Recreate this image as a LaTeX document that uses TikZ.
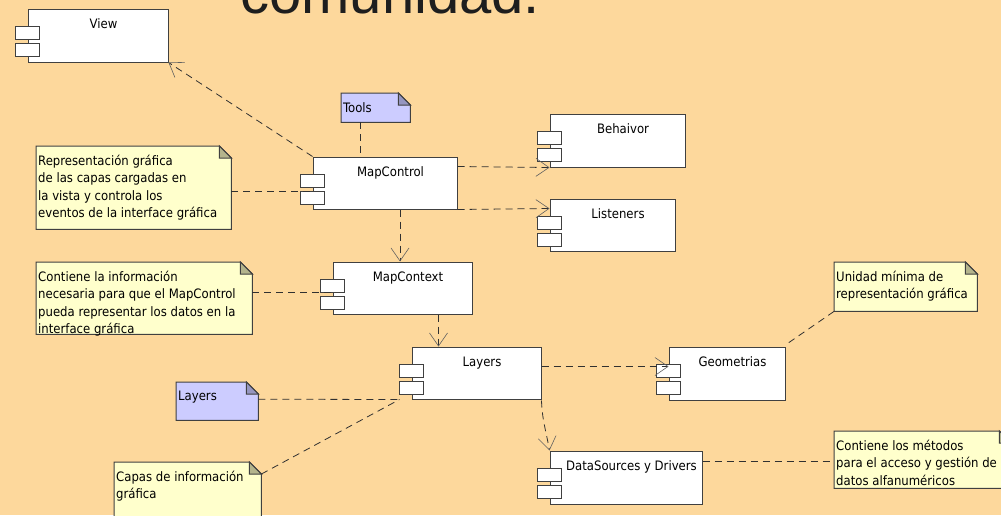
\documentclass[tikz,border=0pt]{standalone}
\usepackage{fontspec}
\usetikzlibrary{arrows.meta}
\newfontfamily\umlfont{DejaVu Sans Condensed}
\newfontfamily\titlefont{Liberation Sans}
\definecolor{pagebg}{HTML}{FDD89C}
\definecolor{boxline}{HTML}{404040}
\definecolor{depline}{HTML}{303030}
\definecolor{tipline}{HTML}{606060}
\definecolor{noteyellow}{HTML}{FFFFCC}
\definecolor{foldyellow}{HTML}{B4B48C}
\definecolor{notelav}{HTML}{CCCCFF}
\definecolor{foldlav}{HTML}{9696C0}
\definecolor{titlecolor}{HTML}{1E1E1E}
\pgfdeclarelayer{bg}
\pgfsetlayers{bg,main}
\def\earsize{12pt}

\begin{document}
\begin{tikzpicture}[x=1pt, y=-1pt]
		\tikzstyle{component}=[draw=boxline, line width=1pt, fill=white, minimum height=52pt, inner sep=0pt]
		\tikzstyle{port}=[draw=boxline, line width=1pt, fill=white, minimum width=24pt, minimum height=13pt, inner sep=0pt]
		\tikzstyle{complabel}=[anchor=base, inner sep=0pt, xshift=5.5pt, yshift=-20pt, font=\umlfont\fontsize{13pt}{17pt}\selectfont]
		\tikzstyle{note}=[anchor=north west, inner sep=0pt]
		\tikzstyle{notetext}=[anchor=north west, align=left, inner sep=0pt, xshift=2pt, yshift=-9pt, font=\umlfont\fontsize{13pt}{17.3pt}\selectfont]
		\tikzstyle{dep}=[draw=depline, line width=0.8pt, dash pattern=on 7pt off 5pt]
		\tikzstyle{deparrow}=[dep, -{Straight Barb[length=13pt, width=18pt, line width=0.6pt, color=tipline]}]
		\useasboundingbox (0,0) rectangle (1001,515);
		\begin{pgfonlayer}{bg}
		\fill[pagebg] (0,0) rectangle (1001,515);
		\end{pgfonlayer}
		
		\node[anchor=base west, inner sep=0pt, text=titlecolor, font=\titlefont\fontsize{58pt}{60pt}\selectfont](title) at (240,13) {comunidad.};
		
		% components
		\node[component, minimum width=140pt, minimum height=53pt, label={[complabel]north:View}](view) at (98,35.5) {};
		\node[component, minimum width=144pt, label={[complabel]north:MapControl}](mapcontrol) at (385,183) {};
		\node[component, minimum width=135pt, minimum height=53pt, label={[complabel]north:Behaivor}](behavior) at (617.5,140.5) {};
		\node[component, minimum width=125pt, label={[complabel]north:Listeners}](listeners) at (612.5,225) {};
		\node[component, minimum width=139pt, label={[complabel]north:MapContext}](mapcontext) at (402.5,288) {};
		\node[component, minimum width=129pt, label={[complabel]north:Layers}](layers) at (476.5,373) {};
		\node[component, minimum width=116pt, minimum height=53pt, label={[complabel]north:Geometrias}](geometrias) at (727,373.5) {};
		\node[component, minimum width=152pt, minimum height=53pt, label={[complabel]north:DataSources y Drivers}](datasources) at (626,477.5) {};
		
		\foreach \c in {view,mapcontrol,behavior,listeners,mapcontext,layers,geometrias,datasources}
		{
		\node[port](\c-a) at ([yshift=2.5pt]\c.west) {};
		\node[port](\c-b) at ([yshift=-14.5pt]\c.west) {};
		}
		
		% notes
		\node[note, minimum width=195pt, minimum height=83pt, label={[notetext]north west:{Representación gráfica\\de las capas cargadas en\\la vista y controla los\\eventos de la interface gráfica}}](repnote) at (36,146) {};
		\node[note, minimum width=216pt, minimum height=72pt, label={[notetext]north west:{Contiene la información\\necesaria para que el MapControl\\pueda representar los datos en la\\interface gráfica}}](infonote) at (36,262) {};
		\node[note, minimum width=69pt, minimum height=29pt, label={[notetext]north west:Tools}](toolsnote) at (341,93) {};
		\node[note, minimum width=82pt, minimum height=38pt, label={[notetext]north west:Layers}](layersnote) at (176,382) {};
		\node[note, minimum width=147pt, minimum height=70pt, label={[notetext]north west:{Capas de información\\gráfica}}](capasnote) at (114,462) {};
		\node[note, minimum width=143pt, minimum height=49pt, label={[notetext]north west:{Unidad mínima de\\representación gráfica}}](unidadnote) at (834,262) {};
		\node[note, minimum width=177pt, minimum height=57pt, label={[notetext]north west:{Contiene los métodos\\para el acceso y gestión de\\datos alfanuméricos}}](metodosnote) at (834,431) {};
		
		\begin{pgfonlayer}{bg}
		\foreach \n/\f/\g in {repnote/noteyellow/foldyellow, infonote/noteyellow/foldyellow, toolsnote/notelav/foldlav, layersnote/notelav/foldlav, capasnote/noteyellow/foldyellow, unidadnote/noteyellow/foldyellow, metodosnote/noteyellow/foldyellow}
		{
		\draw[boxline, line width=1pt, fill=\f] (\n.south west) -- (\n.north west) -- ([xshift=-\earsize]\n.north east) -- ([yshift=-\earsize]\n.north east) -- (\n.south east) -- cycle;
		\draw[boxline, line width=1pt, fill=\g] ([xshift=-\earsize]\n.north east) -- ([xshift=-\earsize, yshift=-\earsize]\n.north east) -- ([yshift=-\earsize]\n.north east) -- cycle;
		}
		\end{pgfonlayer}
		
		% dependencies
		\draw[deparrow] (mapcontrol.north west) -- (view.south east);
		\draw[deparrow] ([yshift=-10pt]mapcontrol.north east) -- (behavior.south west);
		\draw[deparrow] (mapcontrol.south east) -- ([yshift=-10pt]listeners.north west);
		\draw[deparrow] ([xshift=15pt]mapcontrol.south) -- ([xshift=15pt]mapcontrol.south |- mapcontext.north);
		\draw[deparrow] ([xshift=36pt]mapcontext.south) -- ([xshift=36pt]mapcontext.south |- layers.north);
		\draw[deparrow] ([yshift=-20pt]layers.north east) -- ([yshift=-20pt]layers.north east -| geometrias.west);
		\draw[deparrow] ([yshift=-1pt]layers.south east) to[out=-88, in=100] (datasources.north west);
		
		% note links
		\path[dep] ([yshift=-3.5pt]repnote.east) edge ([yshift=-3.5pt]repnote.east -| mapcontrol.west)
		([yshift=6pt]infonote.east) edge ([yshift=6pt]infonote.east -| mapcontext.west)
		([xshift=-15pt]toolsnote.south) edge ([xshift=-15pt]toolsnote.south |- mapcontrol.north)
		([yshift=2pt]layersnote.east) edge ([xshift=-12pt]layers.south west)
		([yshift=-12pt]capasnote.north east) edge ([xshift=-12pt]layers.south west)
		(unidadnote.south west) edge ([xshift=2pt, yshift=3pt]geometrias.north east)
		([yshift=-11pt]datasources.north east) edge ([yshift=-11pt]datasources.north east -| metodosnote.west);
\end{tikzpicture}
\end{document}
